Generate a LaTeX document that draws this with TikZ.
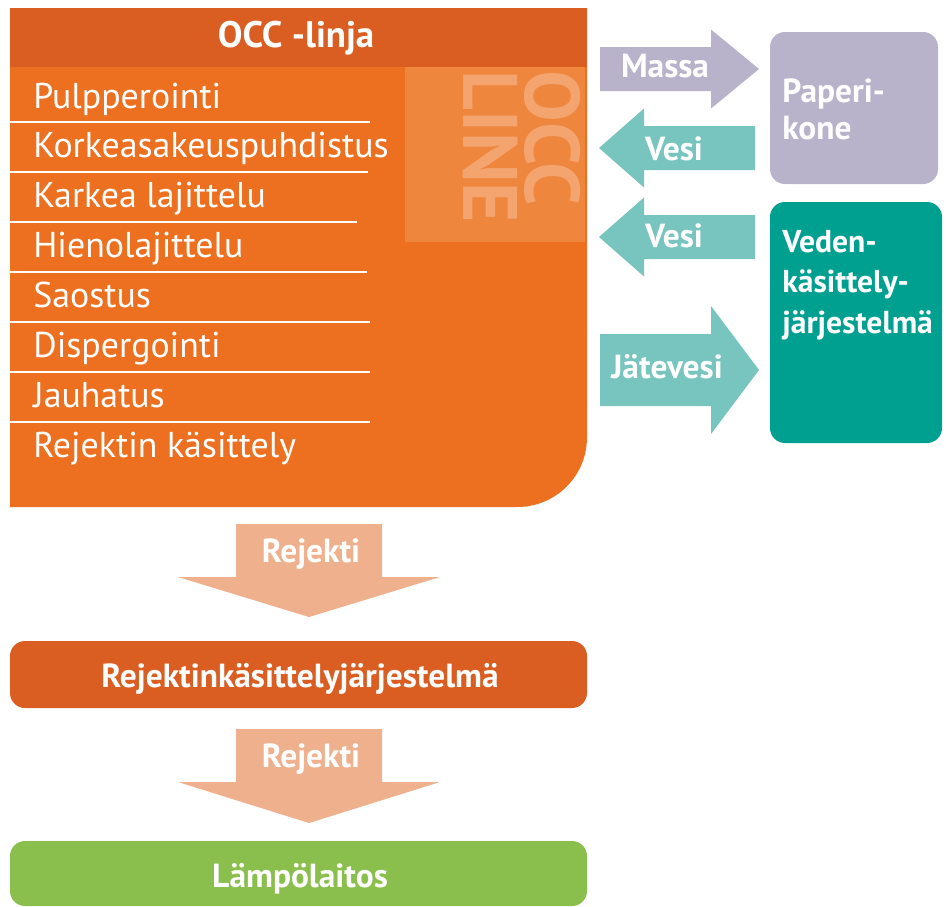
\documentclass[tikz,border=0pt]{standalone}
\usepackage{fontspec}
\setmainfont{PT Sans}
\definecolor{occorange}{HTML}{EC7020}
\definecolor{occdark}{HTML}{DA5D22}
\definecolor{occlight}{HTML}{EF863E}
\definecolor{occtext}{HTML}{F4A46F}
\definecolor{paperlav}{HTML}{B8B2CB}
\definecolor{waterlt}{HTML}{77C5BE}
\definecolor{waterdk}{HTML}{00A091}
\definecolor{rejpeach}{HTML}{EFB08D}
\definecolor{plantgreen}{HTML}{8BBF4D}
\newcommand{\mkbox}[5][black]{% #1: fill colour, #2: x1, #3: y1, #4: x2, #5: y2
	\fill[#1,rounded corners=0.3cm] (#2,#3) rectangle (#4,#5);
}
\newcommand{\harrow}[7]{% #1: colour, #2: tail x, #3: neck x, #4: tip x, #5: centre y, #6: shaft half, #7: head half
	\fill[#1] (#2,#5-#6) -- (#3,#5-#6) -- (#3,#5-#7) -- (#4,#5) -- (#3,#5+#7) -- (#3,#5+#6) -- (#2,#5+#6) -- cycle;
}
\newcommand{\varrow}[7]{% #1: colour, #2: centre x, #3: tail y, #4: neck y, #5: tip y, #6: shaft half, #7: head half
	\fill[#1] (#2-#6,#3) -- (#2+#6,#3) -- (#2+#6,#4) -- (#2+#7,#4) -- (#2,#5) -- (#2-#7,#4) -- (#2-#6,#4) -- cycle;
}

\begin{document}
\begin{tikzpicture}[x=0.02cm,y=-0.02cm,
	lbl/.style={text=white,font=\bfseries\fontsize{19}{21.5}\selectfont,inner sep=0pt},
	listitem/.style={text=white,font=\fontsize{20.4}{24}\selectfont,inner sep=0pt,anchor=base west}]
					\useasboundingbox (0,0) rectangle (946,906);
					
					% OCC line box
					\fill[occorange] (10,8) -- (587,8) -- (587,437) .. controls (587,476) and (556,507) .. (517,507) -- (10,507) -- cycle;
					\fill[occdark] (10,8) rectangle (587,67);
					\fill[occlight] (405,67) rectangle (585,242);
					\node[text=occtext,font=\bfseries\fontsize{44}{35}\selectfont,rotate=-90,anchor=north west,align=left,inner sep=0pt] (occline) at (581,70) {OCC\\LINE};
					\node[lbl,font=\bfseries\fontsize{21}{24}\selectfont,anchor=base] (occhead) at (296,47) {OCC -linja};
					
					% Process steps
					\foreach \txt [count=\i from 0] in {Pulpperointi,Korkeasakeuspuhdistus,Karkea lajittelu,Hienolajittelu,Saostus,Dispergointi,Jauhatus,Rejektin käsittely}
						\node[listitem] (step\i) at (33,108+49.9*\i) {\txt};
					\foreach \xe [count=\i from 0] in {370,368,357,367,370,370,370}
						\draw[white,line width=0.6pt] (10,122+50*\i) -- (\xe,122+50*\i);
					
					% Paper machine
					\harrow{paperlav}{600}{711}{759}{69}{22}{39.5}
					\node[lbl,anchor=base] (massa) at (665,77) {Massa};
					\mkbox[paperlav]{770}{32}{938}{184}
					\node[lbl,anchor=north west,align=left] (paperi) at (782,78) {Paperi-\\kone};
					
					% Water treatment
					\harrow{waterlt}{755}{644}{599}{148}{22}{39.5}
					\node[lbl,anchor=base] (vesi1) at (674,160) {Vesi};
					\harrow{waterlt}{755}{644}{599}{237}{22}{39.5}
					\node[lbl,anchor=base] (vesi2) at (674,247) {Vesi};
					\harrow{waterlt}{600}{711}{759}{370}{36}{64}
					\node[lbl,anchor=base] (jatevesi) at (667,378) {Jätevesi};
					\mkbox[waterdk]{770}{202}{942}{443}
					\node[lbl,anchor=north west,align=left,font=\bfseries\fontsize{18}{23}\selectfont] (veden) at (782,230) {Veden-\\käsittely-\\järjestelmä};
					
					% Reject handling
					\varrow{rejpeach}{309}{524}{577}{617}{73}{131}
					\node[lbl,anchor=base] (rej1) at (311,562) {Rejekti};
					\mkbox[occdark]{10}{641}{587}{708}
					\node[lbl,anchor=base] (rejsys) at (300,687) {Rejektinkäsittelyjärjestelmä};
					\varrow{rejpeach}{309}{729}{782}{823}{73}{131}
					\node[lbl,anchor=base] (rej2) at (311,767) {Rejekti};
					\mkbox[plantgreen]{10}{841}{587}{906}
					\node[lbl,anchor=base] (lampo) at (300,887) {Lämpölaitos};
				\end{tikzpicture}
\end{document}
